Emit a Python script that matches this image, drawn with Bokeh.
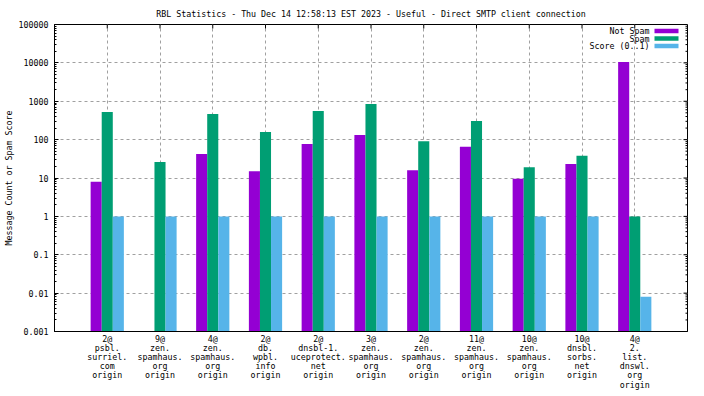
from bokeh.plotting import figure
from bokeh.models import FixedTicker, CustomJSTickFormatter, Range1d, ColumnDataSource
from bokeh.embed import file_html
from bokeh.resources import INLINE
from bokeh.core.properties import value

# ---------------- data ----------------
title_text = "RBL Statistics - Thu Dec 14 12:58:13 EST 2023 - Useful - Direct SMTP client connection"
categories = [
    "2@\npsbl.\nsurriel.\ncom\norigin",
    "9@\nzen.\nspamhaus.\norg\norigin",
    "4@\nzen.\nspamhaus.\norg\norigin",
    "2@\ndb.\nwpbl.\ninfo\norigin",
    "2@\ndnsbl-1.\nuceprotect.\nnet\norigin",
    "3@\nzen.\nspamhaus.\norg\norigin",
    "2@\nzen.\nspamhaus.\norg\norigin",
    "11@\nzen.\nspamhaus.\norg\norigin",
    "10@\nzen.\nspamhaus.\norg\norigin",
    "10@\ndnsbl.\nsorbs.\nnet\norigin",
    "4@\n2.\nlist.\ndnswl.\norg\norigin",
]
not_spam = [8, 0, 42, 15, 77, 131, 16, 65, 9.5, 23, 10600]
spam = [525, 26, 465, 158, 560, 850, 91, 306, 19, 38, 1]
score = [1, 1, 1, 1, 1, 1, 1, 1, 1, 1, 0.008]
series_names = ["Not Spam", "Spam", "Score (0..1)"]
series_colors = ["#9400D3", "#009E73", "#56B4E9"]
y_major_ticks = [0.001, 0.01, 0.1, 1, 10, 100, 1000, 10000, 100000]

FONT = "DejaVu Sans Mono"
FS = "8.3px"
N = len(categories)
YMIN, YMAX = 0.001, 100000

p = figure(frame_width=633, frame_height=307, output_backend="svg", toolbar_location=None,
           y_axis_type="log", x_range=Range1d(0, N + 1),
           y_range=Range1d(YMIN, YMAX),
           min_border_left=47, min_border_right=8, min_border_top=17, min_border_bottom=50)

p.title.text = title_text
p.title.align = "center"
p.title.text_font = FONT
p.title.text_font_size = FS
p.title.text_font_style = "normal"
p.title.text_color = "black"
p.title.standoff = 12
p.title.offset = 0

p.outline_line_color = "black"
p.outline_line_width = 1
p.background_fill_color = "white"
p.border_fill_color = "white"

# grid
x_ticks = list(range(1, N + 1))
p.xgrid.ticker = FixedTicker(ticks=x_ticks)
p.ygrid.ticker = FixedTicker(ticks=y_major_ticks)
for g in (p.xgrid, p.ygrid):
    g.grid_line_color = "#a0a0a0"
    g.grid_line_dash = "3 3"
    g.grid_line_width = 1

# bars
w = 0.21
offsets = [-w, 0, w]
for vals, name, col, off in zip([not_spam, spam, score], series_names, series_colors, offsets):
    xs = [i + 1 + off for i, v in enumerate(vals) if v > 0]
    tops = [v for v in vals if v > 0]
    src = ColumnDataSource(dict(x=xs, top=tops))
    p.vbar(x="x", top="top", bottom=YMIN, width=w, source=src,
           fill_color=col, line_color=None)

# x axis (bottom)
xa = p.xaxis[0]
xa.ticker = FixedTicker(ticks=x_ticks)
xa.major_label_overrides = {i + 1: c for i, c in enumerate(categories)}
xa.major_tick_in = 0
xa.major_tick_out = 0
xa.minor_tick_in = 0
xa.minor_tick_out = 0
xa.major_label_standoff = 2
xa.major_label_text_font = FONT
xa.major_label_text_font_size = FS
xa.major_label_text_line_height = 0.92
xa.major_label_text_color = "black"
xa.axis_line_color = "black"

# y axis (left)
minor = [m * 10 ** k for k in range(-3, 5) for m in range(2, 10)]
yt = FixedTicker(ticks=y_major_ticks, minor_ticks=minor)
fmt = CustomJSTickFormatter(code="return tick >= 1 ? tick.toFixed(0) : String(parseFloat(tick.toPrecision(1)));")
ya = p.yaxis[0]
ya.ticker = yt
ya.formatter = fmt
ya.major_tick_in = 4
ya.major_tick_out = 0
ya.minor_tick_in = 2
ya.minor_tick_out = 0
ya.major_tick_line_color = "black"
ya.minor_tick_line_color = "black"
ya.major_label_standoff = 6
ya.major_label_text_font = FONT
ya.major_label_text_font_size = FS
ya.major_label_text_color = "black"
ya.axis_label = "Message Count or Spam Score"
ya.axis_label_text_font = FONT
ya.axis_label_text_font_size = FS
ya.axis_label_text_font_style = "normal"
ya.axis_label_text_color = "black"
ya.axis_label_standoff = 2
ya.axis_line_color = "black"

# frame geometry in page pixels (used for mirrored ticks and the key)
FL, FR, FT, FB = 55.0, 688.0, 24.7, 331.7
def px_x(px):
    return (px - FL) / (FR - FL) * (N + 1)
def px_y(py):
    return 10 ** (5 - (py - FT) / (FB - FT) * 8)
def dy_to_y(dpx):
    return 10 ** (5 - dpx / (FB - FT) * 8)

# mirrored ticks on top and right borders (inward, like gnuplot)
p.segment(x0=x_ticks, x1=x_ticks, y0=[YMAX] * N, y1=[dy_to_y(4)] * N,
          line_color="black", line_width=1)
xr_major = px_x(FR - 4)
xr_minor = px_x(FR - 2)
p.segment(x0=[N + 1] * len(y_major_ticks), x1=[xr_major] * len(y_major_ticks),
          y0=y_major_ticks, y1=y_major_ticks, line_color="black", line_width=1)
p.segment(x0=[N + 1] * len(minor), x1=[xr_minor] * len(minor),
          y0=minor, y1=minor, line_color="black", line_width=1)

# key (gnuplot style: right-aligned text, sample box to its right)
rows = [31.2, 38.7, 46.2]
p.text(x=[px_x(650)] * 3, y=[px_y(r) for r in rows], text=series_names,
       text_align="right", text_baseline="middle",
       text_font=value(FONT), text_font_size=FS, text_color="black")
p.quad(left=[px_x(655)] * 3, right=[px_x(679)] * 3,
       top=[px_y(r - 2.2) for r in rows], bottom=[px_y(r + 2.2) for r in rows],
       fill_color=series_colors, line_color=None)

open("out.html", "w").write(file_html(p, INLINE))
